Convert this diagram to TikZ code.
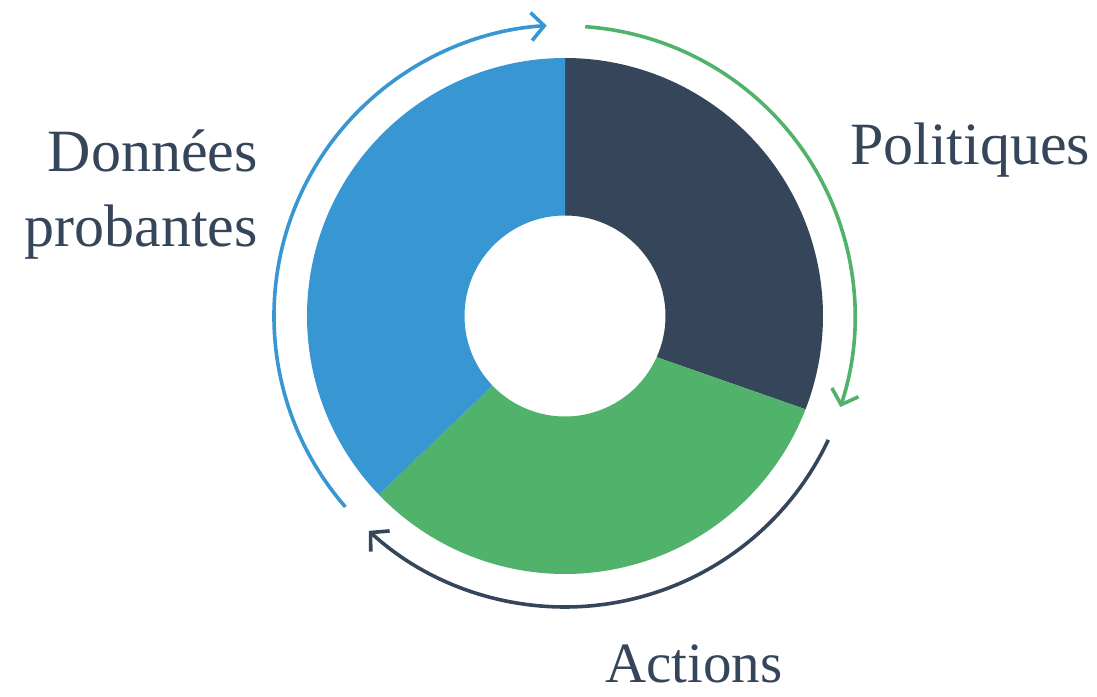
\documentclass[tikz,border=0pt]{standalone}
\usepackage{fontspec}
\setmainfont{Liberation Serif}
\usetikzlibrary{arrows.meta}
\definecolor{cdark}{HTML}{35465A}
\definecolor{cgreen}{HTML}{51B26C}
\definecolor{cblue}{HTML}{3896D3}
\tikzset{
  ring/.style={line width=3.6pt, -{Straight Barb[length=13pt,width=28pt]}},
  lbl/.style={text=cdark, inner sep=0pt},
}
\begin{document}
\begin{tikzpicture}[x=1pt,y=1pt]
\useasboundingbox (-565,-380) rectangle (532,316);
% donut slices
\fill[cdark] (90:258) arc[start angle=90,end angle=-21.2,radius=258]
  -- (-24.2:100.5) arc[start angle=-24.2,end angle=90,radius=100.5] -- cycle;
\fill[cgreen] (-21.2:258) arc[start angle=-21.2,end angle=-136.2,radius=258]
  -- (-136.2:100.5) arc[start angle=-136.2,end angle=-24.2,radius=100.5] -- cycle;
\fill[cblue] (-136.2:258) arc[start angle=-136.2,end angle=-270,radius=258]
  -- (90:100.5) arc[start angle=90,end angle=223.8,radius=100.5] -- cycle;
% cycle arrows
\coordinate (bs) at (221:291);
\coordinate (gs) at (86:290);
\coordinate (ds) at (-25.2:291);
\draw[ring, cblue] (bs) arc[start angle=221,end angle=93.6,radius=291];
\draw[ring, cgreen] (gs) arc[start angle=86,end angle=-18.3,radius=290];
\draw[ring, cdark] (ds) arc[start angle=-25.2,end angle=-132.4,radius=291];
% labels
\node[lbl, anchor=base east, align=right, font=\fontsize{60}{75}\selectfont] (donnees) at (-307,69) {Données\\probantes};
\node[lbl, anchor=base west, font=\fontsize{60}{75}\selectfont] (politiques) at (285,151) {Politiques};
\node[lbl, anchor=base west, font=\fontsize{57}{70}\selectfont] (actions) at (40,-366) {Actions};
\end{tikzpicture}
\end{document}
